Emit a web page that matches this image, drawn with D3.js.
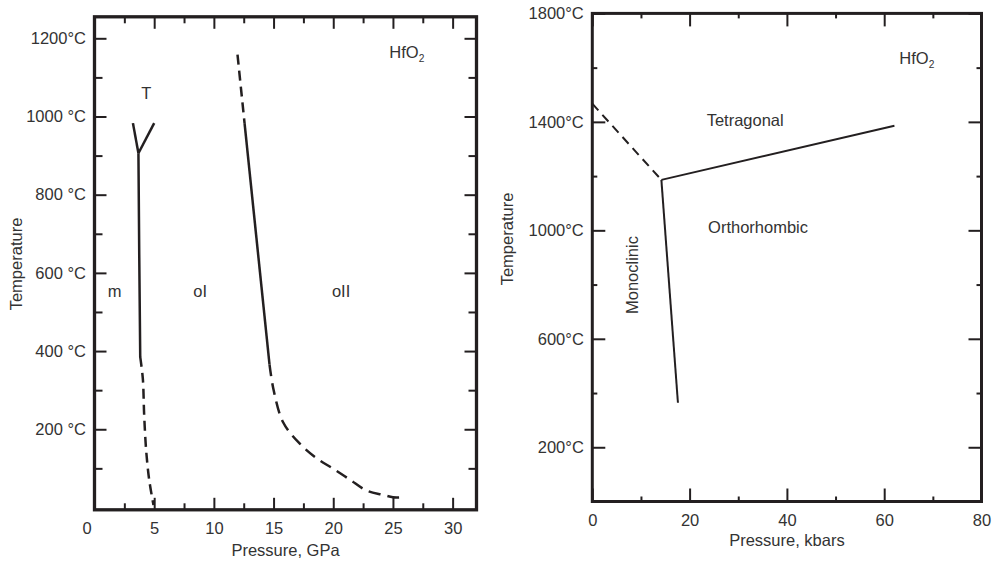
<!DOCTYPE html>
<html><head><meta charset="utf-8">
<script src="https://cdn.jsdelivr.net/npm/d3@7"></script>
<style>
body{margin:0;background:#fff;}
svg{display:block;}
</style></head><body>
<svg id="chart" width="993" height="566"></svg>
<script>
// ---------- LEFT PANEL DATA (Pressure GPa, Temperature °C) ----------
const leftXTicks = [0, 5, 10, 15, 20, 25, 30];
const leftXTickLabels = ["0", "5", "10", "15", "20", "25", "30"];
const leftXMinor = [2.5, 7.5, 12.5, 17.5, 22.5, 27.5];
const leftYTicks = [200, 400, 600, 800, 1000, 1200];
const leftYTickLabels = ["200 °C", "400 °C", "600 °C", "800 °C", "1000 °C", "1200°C"];
const leftYMinor = [100, 300, 500, 700, 900, 1100];

const mTLeftArm   = [[3.22, 983], [3.68, 906]];
const mTRightArm  = [[5.0, 983], [3.68, 906]];
const mOISolid    = [[3.68, 906], [3.75, 640], [3.83, 385]];
const mOIDashed   = [[3.83, 385], [4.05, 329], [4.16, 237], [4.33, 145], [4.58, 71], [4.94, 6]];
const oIoIIDashedHigh = [[11.98, 1158], [12.57, 983]];
const oIoIISolid  = [[12.57, 983], [14.66, 366]];
const oIoIIDashedLow = [[14.66, 366], [15.0, 301], [15.8, 218], [17.2, 163], [18.6, 126], [20.0, 99],
                        [21.4, 71], [22.8, 43], [24.2, 32], [25.0, 26], [25.75, 26]];
const leftLabels = [
  {text: "T",   p: 4.33,  t: 1046},
  {text: "m",   p: 1.69,  t: 538},
  {text: "oI",  p: 8.85,  t: 538},
  {text: "oII", p: 20.66, t: 538}
];
const leftFormula = {p: 24.7, t: 1150};

// ---------- RIGHT PANEL DATA (Pressure kbar, Temperature °C) ----------
const rightXTicks = [0, 20, 40, 60, 80];
const rightXTickLabels = ["0", "20", "40", "60", "80"];
const rightXMinor = [10, 30, 50, 70];
const rightYTicks = [200, 600, 1000, 1400, 1800];
const rightYTickLabels = ["200°C", "600°C", "1000°C", "1400°C", "1800°C"];
const rightYMinor = [400, 800, 1200, 1600];

const monoTetDashed  = [[0, 1467], [14.2, 1186]];
const tetOrthoSolid  = [[14.2, 1186], [62.1, 1386]];
const monoOrthoSolid = [[14.2, 1186], [17.6, 364]];
const rightLabels = [
  {text: "Tetragonal",   p: 23.5, t: 1383},
  {text: "Orthorhombic", p: 23.8, t: 990}
];
const rightRotLabel = {text: "Monoclinic", p: 9.4, t: 835};
const rightFormula = {p: 63.1, t: 1613};

// ---------- DRAWING ----------
const INK = "#231f20", TEXT = "#333333";
const FS = 16.5;
const FONT = "'Liberation Sans', Arial, Helvetica, sans-serif";
const svg = d3.select("#chart").attr("font-family", FONT);

function panel(o) {
  const x = d3.scaleLinear().domain(o.xDomain).range(o.xRange);
  const y = d3.scaleLinear().domain(o.yDomain).range(o.yRange);
  const [xl, xr] = o.xRange, [yb, yt] = o.yRange;
  const g = svg.append("g");

  function axis(gen, values, size, tr, labels, pad) {
    const a = gen.tickValues(values).tickSizeInner(-size).tickSizeOuter(0).tickPadding(pad || 0)
      .tickFormat(labels ? (d, i) => labels[i] : () => "");
    const ag = g.append("g").attr("transform", tr).call(a)
      .attr("font-family", FONT).attr("font-size", o.fontSize);
    ag.select(".domain").remove();
    ag.selectAll("line").attr("stroke", INK).attr("stroke-width", o.tickWidth);
    ag.selectAll("text").attr("fill", TEXT);
    return ag;
  }
  const bx = axis(d3.axisBottom(x), o.xTicks, o.majorX, `translate(0,${yb})`, o.xLabels, 12.8);
  axis(d3.axisBottom(x), o.xMinor, o.minorX, `translate(0,${yb})`);
  axis(d3.axisTop(x), o.xTicks, o.majorX, `translate(0,${yt})`);
  axis(d3.axisTop(x), o.xMinor, o.minorX, `translate(0,${yt})`);
  axis(d3.axisLeft(y), o.yTicks, o.majorY, `translate(${xl},0)`, o.yLabels, 8.5);
  axis(d3.axisLeft(y), o.yMinor, o.minorY, `translate(${xl},0)`);
  axis(d3.axisRight(y), o.yTicks, o.majorY, `translate(${xr},0)`);
  axis(d3.axisRight(y), o.yMinor, o.minorY, `translate(${xr},0)`);
  if (o.zeroDx) bx.selectAll(".tick text").filter(d => d === 0).attr("dx", o.zeroDx);

  g.append("rect").attr("x", xl).attr("y", yt).attr("width", xr - xl).attr("height", yb - yt)
    .attr("fill", "none").attr("stroke", INK).attr("stroke-width", o.frameWidth);

  g.append("text").attr("x", (xl + xr) / 2).attr("y", o.xTitleY).attr("text-anchor", "middle")
    .attr("font-size", o.fontSize).attr("fill", TEXT).text(o.xTitle);
  g.append("text").attr("transform", `translate(${o.yTitleX},${o.yTitleCY}) rotate(-90)`)
    .attr("text-anchor", "middle").attr("font-size", o.fontSize).attr("fill", TEXT).text("Temperature");

  return {g, x, y};
}

function drawLine(P, data, dashed, width, curve, dash) {
  const line = d3.line().x(d => P.x(d[0])).y(d => P.y(d[1])).curve(curve || d3.curveLinear);
  P.g.append("path").datum(data).attr("d", line).attr("fill", "none")
    .attr("stroke", INK).attr("stroke-width", width)
    .attr("stroke-dasharray", dashed ? dash : null);
}

function formula(P, pos, size) {
  const t = P.g.append("text").attr("x", P.x(pos.p)).attr("y", P.y(pos.t))
    .attr("font-size", size).attr("fill", TEXT);
  t.append("tspan").text("HfO");
  t.append("tspan").attr("font-size", size * 0.62).attr("dy", 4).text("2");
}

const L = panel({
  xDomain: [0, 32], xRange: [94.5, 476.5],
  yDomain: [-6, 1255], yRange: [509.8, 16.8],
  xTicks: leftXTicks, xLabels: leftXTickLabels, xMinor: leftXMinor,
  yTicks: leftYTicks, yLabels: leftYTickLabels, yMinor: leftYMinor,
  majorX: 12, minorX: 6.5, majorY: 12, minorY: 8,
  tickWidth: 2, frameWidth: 3.3, fontSize: FS,
  xTitle: "Pressure, GPa", xTitleY: 556, yTitleX: 22, yTitleCY: 264, zeroDx: -8
});
drawLine(L, mTLeftArm, false, 2.5);
drawLine(L, mTRightArm, false, 2.5);
drawLine(L, mOISolid, false, 2.5);
drawLine(L, mOIDashed, true, 2.5, d3.curveCatmullRom, "10,6");
drawLine(L, oIoIIDashedHigh, true, 2.5, d3.curveLinear, "10,6");
drawLine(L, oIoIISolid, false, 2.5);
drawLine(L, oIoIIDashedLow, true, 2.5, d3.curveCatmullRom, "12,7");
leftLabels.forEach(l => L.g.append("text").attr("x", L.x(l.p)).attr("y", L.y(l.t))
  .attr("text-anchor", "middle").attr("font-size", FS).attr("fill", TEXT).text(l.text));
formula(L, leftFormula, FS);

const R = panel({
  xDomain: [0, 80], xRange: [592.3, 981.5],
  yDomain: [0, 1800], yRange: [501.5, 13.4],
  xTicks: rightXTicks, xLabels: rightXTickLabels, xMinor: rightXMinor,
  yTicks: rightYTicks, yLabels: rightYTickLabels, yMinor: rightYMinor,
  majorX: 13, minorX: 5, majorY: 13, minorY: 5,
  tickWidth: 2, frameWidth: 3, fontSize: FS,
  xTitle: "Pressure, kbars", xTitleY: 546, yTitleX: 513, yTitleCY: 239
});
drawLine(R, monoTetDashed, true, 2, d3.curveLinear, "9,6");
drawLine(R, tetOrthoSolid, false, 2);
drawLine(R, monoOrthoSolid, false, 2);
rightLabels.forEach(l => R.g.append("text").attr("x", R.x(l.p)).attr("y", R.y(l.t))
  .attr("font-size", FS).attr("fill", TEXT).text(l.text));
R.g.append("text").attr("transform", `translate(${R.x(rightRotLabel.p)},${R.y(rightRotLabel.t)}) rotate(-90)`)
  .attr("text-anchor", "middle").attr("font-size", FS).attr("fill", TEXT).text(rightRotLabel.text);
formula(R, rightFormula, FS);
</script>
</body></html>
